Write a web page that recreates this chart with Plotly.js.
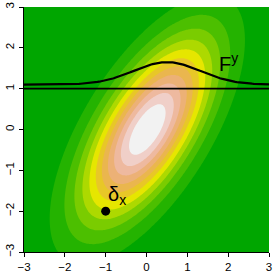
<!DOCTYPE html>
<html>
<head>
<meta charset="utf-8">
<script src="https://cdn.plot.ly/plotly-3.0.1.min.js"></script>
<style>html,body{margin:0;padding:0;background:#fff;}#chart{width:277px;height:277px;}</style>
</head>
<body>
<div id="chart"></div>
<script>
// ---- data ----
var axisRange = [-3, 3];
var tickValues = [-3, -2, -1, 0, 1, 2, 3];
var densityMean = [0.02, 0.0];            // centre of the bivariate normal (x, y)
var densityCov = [[1.15, 1.05], [1.05, 2.2]]; // covariance read from the ellipse shape
var nLevels = 12;                          // number of colour bands
var terrainColors = ['#00A600', '#24B300', '#4CBF00', '#7ACC00', '#ADD900', '#E6E600',
                     '#E8C727', '#EAB64E', '#ECB176', '#EEB99F', '#F0CFC8', '#F2F2F2'];
var lineY = [1];                           // horizontal reference line
var bumpBase = [1.1];                      // baseline of F^y curve
var bumpPeakX = [0.5];
var bumpSd = [0.82];
var bumpHeight = [0.55];
var pointX = [-1];
var pointY = [-2];
var labelF = 'F<sup>y</sup>';
var labelDelta = 'δ<sub>x</sub>';

// ---- build grid for the density surface ----
var gridN = 151;
var gx = [], gy = [];
for (var i = 0; i < gridN; i++) {
  var v = axisRange[0] + (axisRange[1] - axisRange[0]) * i / (gridN - 1);
  gx.push(v); gy.push(v);
}
var sxx = densityCov[0][0], sxy = densityCov[0][1], syy = densityCov[1][1];
var det = sxx * syy - sxy * sxy;
var z = [], zmax = 0;
for (var r = 0; r < gridN; r++) {
  var row = [];
  for (var c = 0; c < gridN; c++) {
    var dx = gx[c] - densityMean[0], dy = gy[r] - densityMean[1];
    var q = (syy * dx * dx - 2 * sxy * dx * dy + sxx * dy * dy) / det;
    var d = Math.exp(-0.5 * q) / (2 * Math.PI * Math.sqrt(det));
    row.push(d);
    if (d > zmax) zmax = d;
  }
  z.push(row);
}
var step = zmax / nLevels;
var cscale = terrainColors.map(function (col, k) { return [k / (nLevels - 1), col]; });

// ---- F^y curve ----
var cx = [], cy = [];
for (var j = 0; j < 161; j++) {
  var xv = axisRange[0] + (axisRange[1] - axisRange[0]) * j / 160;
  cx.push(xv);
  cy.push(bumpBase[0] + bumpHeight[0] * Math.exp(-0.5 * Math.pow((xv - bumpPeakX[0]) / bumpSd[0], 2)));
}

var traces = [
  {
    type: 'contour', x: gx, y: gy, z: z,
    autocontour: false,
    contours: {start: step, end: step * (nLevels - 1) + step * 0.001, size: step, coloring: 'fill', showlines: false},
    line: {width: 0},
    colorscale: cscale, showscale: false, hoverinfo: 'skip'
  },
  {
    type: 'scatter', mode: 'lines', x: axisRange, y: [lineY[0], lineY[0]],
    line: {color: '#000', width: 1.6}, hoverinfo: 'skip', showlegend: false
  },
  {
    type: 'scatter', mode: 'lines', x: cx, y: cy,
    line: {color: '#000', width: 2.2}, hoverinfo: 'skip', showlegend: false
  },
  {
    type: 'scatter', mode: 'markers', x: pointX, y: pointY,
    marker: {color: '#000', size: 9}, hoverinfo: 'skip', showlegend: false
  }
];

var axisCommon = {
  range: axisRange, tickvals: tickValues, ticks: 'outside', ticklen: 4, tickwidth: 1,
  tickcolor: '#000', showline: true, linecolor: '#000', linewidth: 1, showgrid: false,
  zeroline: false, mirror: false, tickfont: {family: 'Liberation Sans, Arial, sans-serif', size: 11.5, color: '#000'}
};

var layout = {
  width: 277, height: 277,
  margin: {l: 24, r: 8, t: 7, b: 25, pad: 0},
  paper_bgcolor: '#fff', plot_bgcolor: '#00A600',
  showlegend: false,
  xaxis: Object.assign({}, axisCommon, {}),
  yaxis: Object.assign({}, axisCommon, {tickangle: -90}),
  annotations: [
    {x: 1.73, y: 1.64, xref: 'x', yref: 'y', text: labelF, showarrow: false,
     xanchor: 'left', yanchor: 'middle', font: {family: 'Liberation Sans, Arial, sans-serif', size: 20, color: '#000'}},
    {x: -0.99, y: -1.62, xref: 'x', yref: 'y', text: labelDelta, showarrow: false,
     xanchor: 'left', yanchor: 'middle', font: {family: 'Liberation Sans, Arial, sans-serif', size: 20, color: '#000'}}
  ]
};

Plotly.newPlot('chart', traces, layout, {staticPlot: true, displayModeBar: false});
</script>
</body>
</html>
